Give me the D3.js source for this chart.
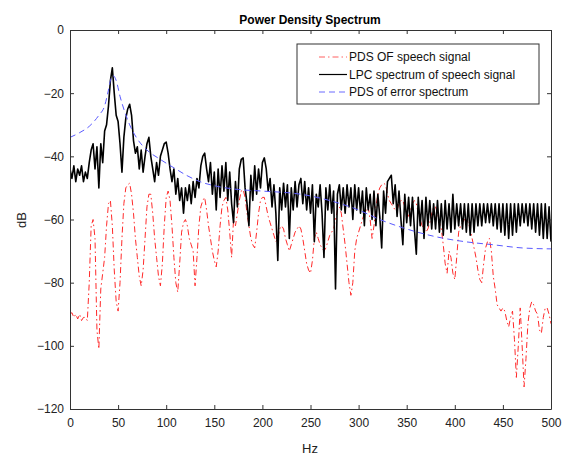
<!DOCTYPE html>
<html>
<head>
<meta charset="utf-8">
<script src="https://cdn.jsdelivr.net/npm/d3@7"></script>
<style>
  body { margin: 0; background: #fff; }
  text { font-family: Arial, "Liberation Sans", sans-serif; }
</style>
</head>
<body>
<div id="plot_area"></div>
<script>
// chart size
const w = 568;
const h = 457;

// frequency grid of the two spectra (Hz, 2 Hz step)
const freqStep = 2;

// PDS of speech signal (dB), one value every 2 Hz from 0 to 500
const pdsSpeech = [
  -90, -89.5, -91, -90, -91.5, -90, -92, -91, -91, -92,
  -80, -62, -60, -66, -95, -101, -82, -77, -72, -62,
  -55, -54, -62, -76, -86, -89, -80, -66, -55, -50,
  -49, -48.5, -52, -58, -66, -72, -78, -81, -76, -66,
  -56, -52, -52, -58, -66, -72, -78, -81, -74, -62,
  -53, -51, -54, -62, -72, -80, -83, -74, -64, -61,
  -60, -62, -66, -68, -70, -81, -72, -62, -56, -54,
  -53, -57, -62, -66, -70, -73, -75, -70, -62, -56,
  -54, -53, -57, -64, -72, -60, -62, -58, -54, -51,
  -50.5, -53, -58, -62, -66, -68, -69, -64, -58, -54,
  -53, -53, -56, -59, -61, -63, -65, -67, -66, -63,
  -62, -63, -66, -68, -70, -68, -66, -64, -63, -62,
  -63, -66, -70, -74, -76, -77, -73, -66, -64, -66,
  -68, -69, -70, -69, -67, -65, -64, -63, -60, -57,
  -56, -58, -63, -68, -74, -80, -84, -80, -70, -66,
  -64, -62, -60, -58, -57, -56, -60, -66, -62, -56,
  -52, -50, -49, -48.5, -49, -52, -54, -55, -56, -57,
  -57, -55, -54, -54, -56, -58, -59, -57, -55, -54,
  -55, -58, -60, -62, -63, -64, -63, -61, -58, -56,
  -56, -58, -61, -63, -68, -74, -77, -70, -72, -77,
  -79, -72, -64, -62, -61, -60, -60, -61, -63, -66,
  -69, -72, -76, -79, -80, -74, -69, -67, -66, -70,
  -78, -82, -87, -88, -89, -88, -89, -92, -94, -91,
  -89, -98, -110, -100, -88, -100, -113, -104, -93, -88,
  -86, -87, -89, -90, -95, -96, -91, -88, -88, -90,
  -93
];

// LPC spectrum of speech signal (dB), one value every 2 Hz from 0 to 500
const lpcSpeech = [
  -44, -47, -43, -48, -44, -46, -43, -48, -45, -47,
  -42, -38, -36, -44, -37, -50, -36, -42, -32, -30,
  -24, -16, -12, -20, -27, -29, -36, -45, -34, -28,
  -25, -23.5, -27, -35, -39, -37, -44, -38, -45, -40,
  -36, -34, -40, -44, -48, -42, -46, -40, -38, -36,
  -35.5, -39, -44, -48, -44, -52, -47, -54, -50, -58,
  -50, -54, -49, -55, -48, -53, -47, -50, -43, -40,
  -39, -44, -48, -42, -52, -45, -57, -44, -53, -43,
  -51, -42, -54, -45, -55, -61, -48, -56, -44, -41,
  -40.5, -50, -55, -62, -46, -54, -43, -52, -44, -50,
  -42, -40.5, -44, -51, -47, -56, -49, -58, -73, -50,
  -57, -48.5, -56, -49, -66, -50, -57, -48, -56, -49,
  -47, -55, -48, -57, -50, -58, -49, -67, -52, -56,
  -49, -58, -72, -50, -57, -49, -58, -51, -82, -52,
  -49, -57, -50, -58, -49, -56, -50, -60, -49, -57,
  -50, -58, -51, -62, -50, -57, -52, -60, -51, -62,
  -52, -59, -69, -51, -58, -48, -47, -46, -55, -49,
  -59, -51, -60, -68, -52, -61, -53, -62, -53, -63,
  -71, -53, -62, -54, -66, -53, -62, -54, -63, -55,
  -63, -54, -64, -55, -65, -54, -63, -55, -64, -52,
  -63, -55, -62, -55, -63, -55, -64, -55, -65, -55,
  -64, -55, -62, -55, -62, -55, -61, -55, -61, -55,
  -62, -55, -63, -55, -64, -55, -65, -55, -66, -55,
  -65, -55, -64, -55, -62, -55, -61, -55, -62, -55,
  -63, -55, -64, -55, -65, -55, -66, -55, -66, -56,
  -67
];

// PDS of error spectrum (smooth envelope)
const errHz = [0, 10, 20, 30, 36, 40, 43, 45, 48, 52, 57, 62, 70, 80, 94, 110, 121, 135, 153, 175, 200, 240, 270, 300, 322, 350, 381, 410, 440, 470, 500];
const errDb = [-34, -32.5, -30.5, -27, -24, -19, -15, -14.5, -16, -21, -26, -30, -34.5, -38, -41, -44, -46, -48, -49.5, -50.5, -51, -52, -54, -57, -60, -63, -65.5, -67, -68, -69, -69.3];

// axis ticks and texts
const xTicks = [0, 50, 100, 150, 200, 250, 300, 350, 400, 450, 500];
const yTicks = [0, -20, -40, -60, -80, -100, -120];
const legendLabels = ['PDS OF speech signal', 'LPC spectrum of speech signal', 'PDS of error spectrum'];

const xScale = d3.scaleLinear().domain([0, 500]).range([70, 551]);
const yScale = d3.scaleLinear().domain([-120, 0]).range([409, 30]);

const svg = d3.select('#plot_area')
              .append('svg')
              .attr('width', w)
              .attr('height', h);

svg.append('defs').append('clipPath')
   .attr('id', 'clip')
   .append('rect')
   .attr('x', 70).attr('y', 30)
   .attr('width', 481).attr('height', 379);

const gridLine = d3.line()
                   .x((d, i) => xScale(i * freqStep))
                   .y((d) => yScale(d));

const plot = svg.append('g').attr('clip-path', 'url(#clip)');

// red dash-dot PDS
plot.append('path')
    .datum(pdsSpeech)
    .attr('fill', 'none')
    .attr('stroke', '#ff2a2a')
    .attr('stroke-width', 1)
    .attr('stroke-dasharray', '6,3,1.5,3')
    .attr('d', gridLine);

// black LPC spectrum
plot.append('path')
    .datum(lpcSpeech)
    .attr('fill', 'none')
    .attr('stroke', '#000')
    .attr('stroke-width', 1.6)
    .attr('stroke-linejoin', 'round')
    .attr('d', gridLine);

// blue dashed error PDS
plot.append('path')
    .datum(errHz.map((f, i) => [f, errDb[i]]))
    .attr('fill', 'none')
    .attr('stroke', '#5a5aff')
    .attr('stroke-width', 1)
    .attr('stroke-dasharray', '6,4')
    .attr('d', d3.line()
                 .curve(d3.curveMonotoneX)
                 .x((d) => xScale(d[0]))
                 .y((d) => yScale(d[1])));

// axes (ticks pointing inward on all sides)
function styleAxis(g) {
  g.selectAll('path').attr('stroke', '#333');
  g.selectAll('line').attr('stroke', '#333');
  g.selectAll('text').attr('fill', '#222').style('font-size', '12px');
}

svg.append('g')
   .attr('transform', 'translate(0,409)')
   .call(d3.axisBottom(xScale).tickValues(xTicks).tickSizeInner(-4).tickSizeOuter(0).tickPadding(9))
   .call(styleAxis);

svg.append('g')
   .attr('transform', 'translate(0,30)')
   .call(d3.axisTop(xScale).tickValues(xTicks).tickSizeInner(-4).tickSizeOuter(0).tickFormat(''))
   .call(styleAxis);

svg.append('g')
   .attr('transform', 'translate(70,0)')
   .call(d3.axisLeft(yScale).tickValues(yTicks).tickSizeInner(-4).tickSizeOuter(0).tickPadding(6))
   .call(styleAxis);

svg.append('g')
   .attr('transform', 'translate(551,0)')
   .call(d3.axisRight(yScale).tickValues(yTicks).tickSizeInner(-4).tickSizeOuter(0).tickFormat(''))
   .call(styleAxis);

svg.selectAll('.domain').attr('fill', 'none');

// title and axis labels
svg.append('text')
   .attr('x', 310)
   .attr('y', 24)
   .attr('text-anchor', 'middle')
   .style('font-size', '12px')
   .style('font-weight', 'bold')
   .text('Power Density Spectrum');

svg.append('text')
   .attr('x', 310)
   .attr('y', 453)
   .attr('text-anchor', 'middle')
   .style('font-size', '13px')
   .attr('fill', '#222')
   .text('Hz');

svg.append('text')
   .attr('text-anchor', 'middle')
   .attr('transform', 'translate(26,220)rotate(-90)')
   .style('font-size', '13px')
   .attr('fill', '#222')
   .text('dB');

// legend
const legend = svg.append('g');
legend.append('rect')
      .attr('x', 297).attr('y', 44)
      .attr('width', 242).attr('height', 60)
      .attr('fill', '#fff')
      .attr('stroke', '#333')
      .attr('stroke-width', 1);

const legendStyles = [
  { stroke: '#ff6060', dash: '6,3,1.5,3', width: 1 },
  { stroke: '#000', dash: null, width: 1.2 },
  { stroke: '#6a6aff', dash: '6,4', width: 1 }
];
const legendY = d3.scalePoint().domain(legendLabels).range([57, 92]);

legendLabels.forEach(function (lab, i) {
  legend.append('line')
        .attr('x1', 319).attr('x2', 347)
        .attr('y1', legendY(lab)).attr('y2', legendY(lab))
        .attr('stroke', legendStyles[i].stroke)
        .attr('stroke-width', legendStyles[i].width)
        .attr('stroke-dasharray', legendStyles[i].dash);
  legend.append('text')
        .attr('x', 349)
        .attr('y', legendY(lab))
        .attr('dy', '0.35em')
        .style('font-size', '12px')
        .attr('fill', '#111')
        .text(lab);
});
</script>
</body>
</html>
